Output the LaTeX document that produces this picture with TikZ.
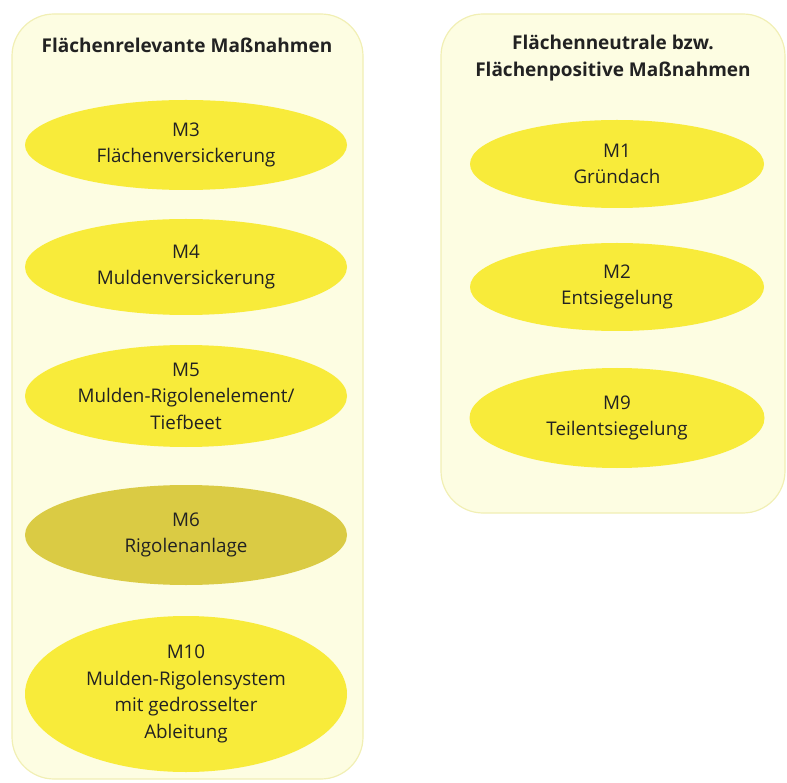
\documentclass[tikz,border=0pt]{standalone}
\usepackage{fontspec}
\setmainfont{Open Sans}
\usetikzlibrary{shapes.geometric}
\definecolor{panelfill}{HTML}{FDFDE2}
\definecolor{panelline}{HTML}{F1EFB4}
\definecolor{measure}{HTML}{F8EB3A}
\definecolor{measuredark}{HTML}{DACB44}
\definecolor{ink}{HTML}{222222}
\tikzset{
  panel/.style={draw=panelline, line width=1.2pt, fill=panelfill, rounded corners=42pt},
  measurenode/.style={ellipse, fill=measure, draw=none, inner sep=0pt, align=center,
    text=ink, font=\fontsize{18.8}{26.5}\selectfont, minimum width=322pt},
  heading/.style={align=center, text=ink, font=\bfseries\fontsize{19}{26.5}\selectfont}
}
\begin{document}
\begin{tikzpicture}[x=1pt, y=-1pt]
  \useasboundingbox (0,0) rectangle (787,783);
  % group panels
  \draw[panel] (12,14) rectangle (363,779);
  \draw[panel] (441,14) rectangle (785,513);
  % headings
  \node[heading] (hl) at (187,45) {Flächenrelevante Maßnahmen};
  \node[heading] (hr) at (613,58) {Flächenneutrale bzw.\\Flächenpositive Maßnahmen};
  % left column
  \node[measurenode, minimum height=90pt] (m3) at (186,145) {M3\\Flächenversickerung};
  \node[measurenode, minimum height=96pt] (m4) at (186,267) {M4\\Muldenversickerung};
  \node[measurenode, minimum height=102pt] (m5) at (186,396) {M5\\Mulden-Rigolenelement/\\Tiefbeet};
  \node[measurenode, minimum height=100pt, fill=measuredark] (m6) at (186,535) {M6\\Rigolenanlage};
  \node[measurenode, minimum height=156pt] (m10) at (186,694) {M10\\Mulden-Rigolensystem\\mit gedrosselter\\Ableitung};
  % right column
  \node[measurenode, minimum width=294pt, minimum height=88pt] (m1) at (617,164) {M1\\Gründach};
  \node[measurenode, minimum width=294pt, minimum height=88pt] (m2) at (617,287) {M2\\Entsiegelung};
  \node[measurenode, minimum width=295pt, minimum height=100pt] (m9) at (617,418) {M9\\Teilentsiegelung};
\end{tikzpicture}
\end{document}
